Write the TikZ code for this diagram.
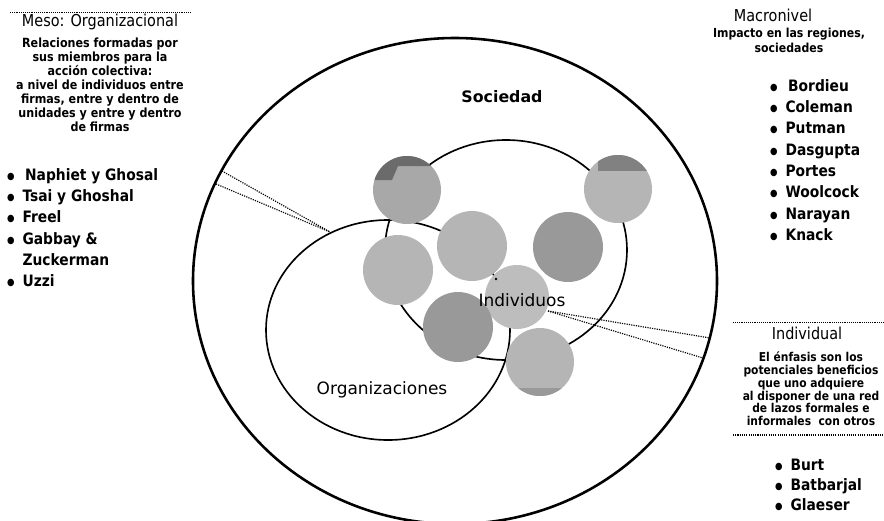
\documentclass[tikz,border=0pt]{standalone}
\usepackage{fontspec}
\setmainfont{DejaVu Sans}
\newfontfamily\narrowfont{DejaVu Sans}[FakeStretch=0.88]
\usetikzlibrary{positioning}

\definecolor{dotA}{gray}{0.66}
\definecolor{dotB}{gray}{0.71}
\definecolor{dotC}{gray}{0.60}
\definecolor{dotD}{gray}{0.74}
\definecolor{capgray}{gray}{0.42}

\newcommand{\blt}{\raisebox{0.12ex}{\scalebox{0.62}{●}}\enspace}

\tikzset{
  label text/.style={font=\fontsize{14.5}{17}\selectfont},
  head text/.style={font=\narrowfont\fontsize{14}{16}\selectfont},
  note text/.style={font=\narrowfont\bfseries\fontsize{10.8}{11.9}\selectfont, align=center},
  list text/.style={font=\narrowfont\bfseries\fontsize{13.4}{18.2}\selectfont, align=left, anchor=north west},
  ring/.style={black, line width=1.4pt},
  link/.style={densely dotted, line width=1pt},
  rule/.style={densely dotted, line width=0.6pt},
}

\begin{document}
\begin{tikzpicture}[x=0.03cm,y=-0.03cm]
\tikzstyle{every node}+=[inner sep=0pt]
\useasboundingbox (0,0) rectangle (884,520);

% society, organisations, individuals
\draw [black, line width=2.2pt] (455,281) ellipse [x radius=262, y radius=243];
\draw [ring] (388,330) ellipse [x radius=122, y radius=110];
\draw [ring] (506,250) ellipse [x radius=121, y radius=110];

% grey spots
\fill [dotA] (407,190) circle (34);
\begin{scope}
\clip (407,190) circle (34);
\fill [capgray] (370,150) -- (445,150) -- (445,166) -- (398,166) -- (392,180) -- (370,180) -- cycle;
\end{scope}
\fill [dotB] (398,270) circle (35);
\fill [dotB] (472,246) circle (35);
\fill [dotC] (568,247) circle (35);
\fill [dotB] (618,189) circle (34);
\begin{scope}
\clip (618,189) circle (34);
\fill [capgray!85] (598,150) -- (660,150) -- (660,171) -- (598,171) -- cycle;
\end{scope}
\fill [dotD] (517,297) circle (32);
\fill [dotC] (458,327) circle (35);
\fill [dotB] (540,362) circle (34);
\begin{scope}
\clip (540,362) circle (34);
\fill [dotC] (500,388) rectangle (580,400);
\end{scope}
\fill [black] (496,279) circle (1.3);

% labels in the rings
\node (sociedad) at (502,97) [font=\bfseries\fontsize{13.5}{16}\selectfont] {Sociedad};
\node (individuos) at (522,300) [label text] {Individuos};
\node (organizaciones) at (382,390) [label text] {Organizaciones};

% dotted links
\coordinate (mesoUp) at (222,171);
\coordinate (mesoLow) at (216,184);
\coordinate (orgTop) at (330,232);
\coordinate (indStart) at (548,311);
\coordinate (indUp) at (710,338);
\coordinate (indLow) at (703,358);
\draw [link] (mesoUp) -- (orgTop);
\draw [link] (mesoLow) -- (orgTop);
\draw [link] (indStart) -- (indUp);
\draw [link] (indStart) -- (indLow);

% meso level
\draw [rule] (10,12) -- (190,12);
\node (meso) at (100,22) [head text] {Meso: Organizacional};
\node (mesoNote) at (100,85) [note text] {Relaciones formadas por\\sus miembros para la\\acción colectiva:\\a nivel de individuos entre\\firmas, entre y dentro de\\unidades y entre y dentro\\de firmas};
\node (mesoList) at (7,168) [list text] {\blt\,Naphiet y Ghosal\\\blt Tsai y Ghoshal\\\blt Freel\\\blt Gabbay \&\\\phantom{\blt}Zuckerman\\\blt Uzzi};

% macro level
\node (macro) at (773,15) [head text] {Macronivel};
\node (macroNote) at (789,40) [note text, font=\narrowfont\bfseries\fontsize{10.6}{12.8}\selectfont] {Impacto en las regiones,\\sociedades};
\node (macroList) at (770,79) [list text] {\blt\,Bordieu\\\blt Coleman\\\blt Putman\\\blt Dasgupta\\\blt Portes\\\blt Woolcock\\\blt Narayan\\\blt Knack};

% individual level
\draw [rule] (733,322) -- (884,322);
\node (indiv) at (807,333) [head text] {Individual};
\node (indivNote) at (811,389) [note text, font=\narrowfont\bfseries\fontsize{10.4}{10.9}\selectfont] {El énfasis son los\\potenciales beneficios\\que uno adquiere\\al disponer de una red\\de lazos formales e\\informales \ con otros};
\draw [rule, line width=0.9pt] (733,435) -- (884,435);
\node (indivList) at (775,459) [list text, font=\narrowfont\bfseries\fontsize{13.4}{17.2}\selectfont] {\blt Burt\\\blt Batbarjal\\\blt Glaeser};
\end{tikzpicture}
\end{document}
